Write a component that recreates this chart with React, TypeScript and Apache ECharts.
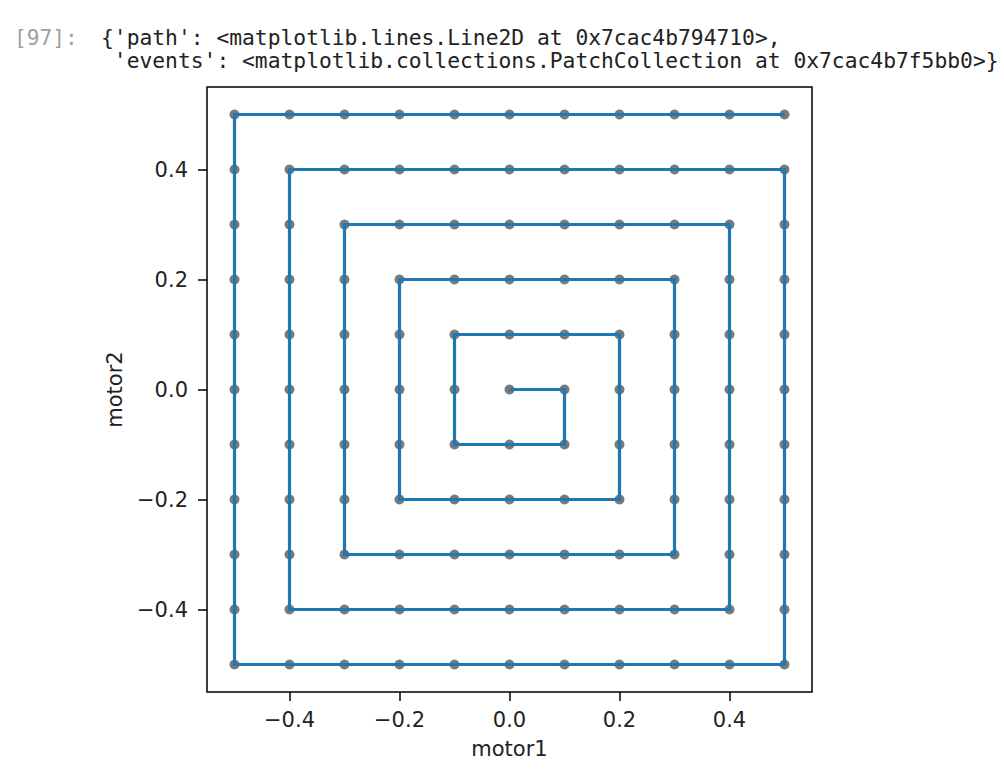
import React, { useEffect, useRef } from "react";
import * as echarts from "echarts";

// Grid positions of the scanned events (both motors)
const gridValues = [-0.5, -0.4, -0.3, -0.2, -0.1, 0.0, 0.1, 0.2, 0.3, 0.4, 0.5];

// Corners of the spiral path (motor1, motor2)
const pathX = [0.0, 0.1, 0.1, -0.1, -0.1, 0.2, 0.2, -0.2, -0.2, 0.3, 0.3, -0.3, -0.3, 0.4, 0.4, -0.4, -0.4, 0.5, 0.5, -0.5, -0.5, 0.5];
const pathY = [0.0, 0.0, -0.1, -0.1, 0.1, 0.1, -0.2, -0.2, 0.2, 0.2, -0.3, -0.3, 0.3, 0.3, -0.4, -0.4, 0.4, 0.4, -0.5, -0.5, 0.5, 0.5];

const tickValues = [-0.4, -0.2, 0.0, 0.2, 0.4];

const headerPrompt = "[97]:";
const headerLines = [
  "{'path': <matplotlib.lines.Line2D at 0x7cac4b794710>,",
  " 'events': <matplotlib.collections.PatchCollection at 0x7cac4b7f5bb0>}",
];

const fmt = (v: number) => {
  const s = Math.abs(v) < 1e-9 ? "0.0" : v.toFixed(1);
  return s.replace("-", "\u2212");
};

export default function App() {
  const ref = useRef<HTMLDivElement>(null);
  useEffect(() => {
    if (!ref.current) return;
    const chart = echarts.init(ref.current, null, { renderer: "svg" });
    const events: number[][] = [];
    for (const y of gridValues) for (const x of gridValues) events.push([x, y]);
    const path = pathX.map((x, i) => [x, pathY[i]]);
    const font = "DejaVu Sans";
    const axisCommon = (margin: number) => ({
      type: "value",
      min: -0.55,
      max: 0.55,
      splitLine: { show: false },
      axisLine: { show: false, onZero: false },
      axisTick: {
        show: true,
        inside: false,
        length: 9,
        customValues: tickValues,
        lineStyle: { color: "#000", width: 1.5 },
      },
      axisLabel: {
        customValues: tickValues,
        formatter: (v: number) => fmt(v),
        fontFamily: font,
        fontSize: 21,
        color: "#222",
        margin,
      },
      nameLocation: "middle",
      nameTextStyle: { fontFamily: font, fontSize: 21, color: "#222" },
    });
    chart.setOption({
      animation: false,
      backgroundColor: "#fff",
      grid: {
        left: 207,
        top: 87,
        width: 605,
        height: 605,
        show: true,
        borderColor: "#000",
        borderWidth: 1.5,
        backgroundColor: "transparent",
      },
      xAxis: { ...axisCommon(17), name: "motor1", nameGap: 46 },
      yAxis: { ...axisCommon(19), name: "motor2", nameGap: 82 },
      graphic: [
        {
          type: "text",
          x: 14,
          y: 37,
          style: {
            text: headerPrompt,
            fontFamily: "DejaVu Sans Mono",
            fontSize: 21.2,
            fill: "#a0a0a0",
            textVerticalAlign: "middle",
          },
        },
        ...headerLines.map((t, i) => ({
          type: "text",
          x: 101,
          y: 37 + i * 23.5,
          style: {
            text: t,
            fontFamily: "DejaVu Sans Mono",
            fontSize: 21.3,
            fill: "#222",
            textVerticalAlign: "middle",
          },
        })),
      ],
      series: [
        {
          type: "scatter",
          data: events,
          symbolSize: 10,
          itemStyle: { color: "#7a7a7a", opacity: 1 },
          z: 1,
        },
        {
          type: "line",
          data: path,
          symbol: "none",
          showSymbol: false,
          lineStyle: { color: "#1f77b4", width: 3.2, join: "miter" },
          z: 5,
        },
      ],
    });
    return () => chart.dispose();
  }, []);
  return (
    <div
      ref={ref}
      style={{ position: "fixed", left: 0, top: 0, width: 1004, height: 776 }}
    />
  );
}
